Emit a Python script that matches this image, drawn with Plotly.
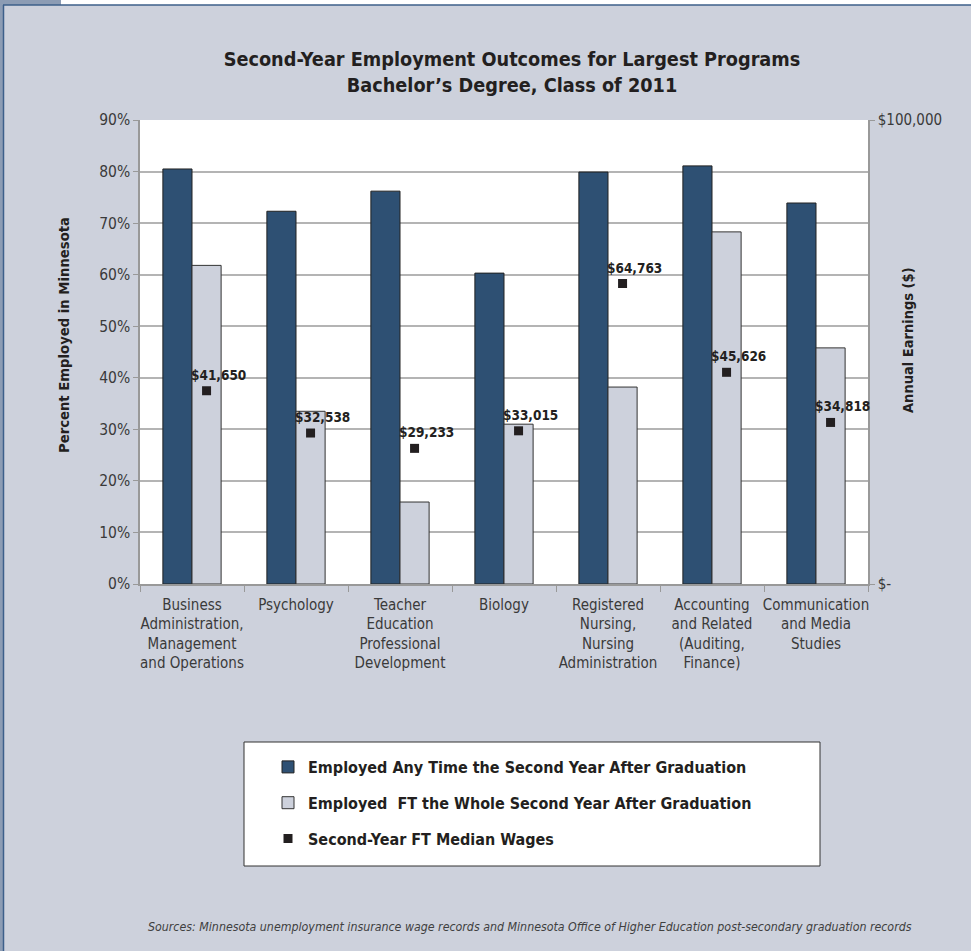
import plotly.graph_objects as go

categories = [
    "Business<br>Administration,<br>Management<br>and Operations",
    "Psychology",
    "Teacher<br>Education<br>Professional<br>Development",
    "Biology",
    "Registered<br>Nursing,<br>Nursing<br>Administration",
    "Accounting<br>and Related<br>(Auditing,<br>Finance)",
    "Communication<br>and Media<br>Studies",
]
employed_any = [80.5, 72.3, 76.2, 60.3, 79.9, 81.1, 73.9]
employed_ft = [61.8, 33.5, 15.9, 31.0, 38.2, 68.3, 45.8]
median_wages = [41650, 32538, 29233, 33015, 64763, 45626, 34818]
wage_labels = ["$41,650", "$32,538", "$29,233", "$33,015", "$64,763", "$45,626", "$34,818"]
left_ticks = [0, 10, 20, 30, 40, 50, 60, 70, 80, 90]
left_ticktext = ["0%", "10%", "20%", "30%", "40%", "50%", "60%", "70%", "80%", "90%"]
right_tickvals = [0, 100000]
right_ticktext = ["$-", "$100,000"]

W, H = 971, 951
L, R, T, B = 140, 868, 120, 584
FONT = "DejaVu Sans Condensed, Liberation Sans Narrow, Roboto, sans-serif"
BG = "#cdd1dc"
DARK = "#2e5073"
LIGHT = "#cdd1dc"


def px(x):
    return (x - L) / (R - L)


def py(y):
    return (B - y) / (B - T)


idx = list(range(len(categories)))
bw = 0.28
x_dark = [i - bw / 2 for i in idx]
x_light = [i + bw / 2 for i in idx]

fig = go.Figure()
fig.add_trace(go.Bar(
    x=x_dark, y=employed_any, width=bw,
    name="<b>Employed Any Time the Second Year After Graduation</b>",
    marker=dict(color=DARK, line=dict(color="#222222", width=1)),
    legendgroup="a",
))
fig.add_trace(go.Bar(
    x=x_light, y=employed_ft, width=bw,
    name="<b>Employed  FT the Whole Second Year After Graduation</b>",
    marker=dict(color=LIGHT, line=dict(color="#333333", width=1)),
    legendgroup="b",
))
fig.add_trace(go.Scatter(
    x=x_light, y=median_wages, yaxis="y2", mode="markers",
    name="<b>Second-Year FT Median Wages</b>",
    marker=dict(symbol="square", size=9, color="#231f20"),
    legendgroup="c",
))

annotations = []
for xv, yv, t in zip(x_light, median_wages, wage_labels):
    annotations.append(dict(
        x=xv, y=yv, xref="x", yref="y2", text="<b>" + t + "</b>",
        showarrow=False, xshift=12, yshift=16,
        font=dict(family=FONT, size=13.5, color="#231f20"),
    ))

annotations += [
    dict(text="<b>Percent Employed in Minnesota</b>", textangle=-90,
         x=px(63), y=py(335), xref="paper", yref="paper", showarrow=False,
         xanchor="center", yanchor="middle",
         font=dict(family=FONT, size=14.7, color="#231f20")),
    dict(text="<b>Annual Earnings ($)</b>", textangle=-90,
         x=px(908), y=py(340), xref="paper", yref="paper", showarrow=False,
         xanchor="center", yanchor="middle",
         font=dict(family=FONT, size=14.5, color="#231f20")),
    dict(text="<i>Sources: Minnesota unemployment insurance wage records and Minnesota Office of Higher Education post-secondary graduation records</i>",
         x=px(530), y=py(927), xref="paper", yref="paper", showarrow=False,
         xanchor="center", yanchor="middle",
         font=dict(family=FONT, size=12.3, color="#404040")),
]

shapes = [
    dict(type="rect", xref="paper", yref="paper", x0=px(244), x1=px(820), y0=py(742), y1=py(866),
         fillcolor="white", line=dict(color="#333333", width=1), layer="below"),
    dict(type="rect", xref="paper", yref="paper", x0=px(0), x1=px(61), y0=py(0), y1=py(5),
         fillcolor="#8c9cb4", line=dict(width=0), layer="below"),
    dict(type="rect", xref="paper", yref="paper", x0=px(61), x1=px(971), y0=py(0), y1=py(5),
         fillcolor="white", line=dict(width=0), layer="below"),
    dict(type="rect", xref="paper", yref="paper", x0=px(0), x1=px(3), y0=py(5), y1=py(951),
         fillcolor="#8c9cb4", line=dict(width=0), layer="below"),
    dict(type="line", xref="paper", yref="paper", x0=px(3), x1=px(971), y0=py(5), y1=py(5),
         line=dict(color="#3d5f8a", width=1.5), layer="below"),
    dict(type="line", xref="paper", yref="paper", x0=px(3.5), x1=px(3.5), y0=py(5), y1=py(951),
         line=dict(color="#3d5f8a", width=1.5), layer="below"),
]

fig.update_layout(
    width=W, height=H,
    margin=dict(l=L, r=W - R, t=T, b=H - B, autoexpand=False),
    paper_bgcolor=BG, plot_bgcolor="white",
    barmode="overlay",
    font=dict(family=FONT, size=15, color="#3a3a3a"),
    title=dict(text="<b>Second-Year Employment Outcomes for Largest Programs<br>Bachelor’s Degree, Class of 2011</b>",
               x=px(512), xanchor="center", y=1 - 66 / H, yanchor="middle",
               xref="paper", yref="container",
               font=dict(family=FONT, size=19.7, color="#231f20")),
    xaxis=dict(
        range=[-0.5, len(categories) - 0.5],
        tickvals=idx, ticktext=categories, ticks="", tickangle=0,
        ticklabelstandoff=6,
        showgrid=False, zeroline=False,
        showline=True, linecolor="#999999", linewidth=1.5,
        minor=dict(tick0=0.5, dtick=1, ticks="outside", ticklen=6, tickcolor="#999999", showgrid=False),
        tickfont=dict(family=FONT, size=15, color="#3a3a3a"),
    ),
    yaxis=dict(
        range=[0, 90], tickvals=left_ticks, ticktext=left_ticktext,
        showgrid=True, gridcolor="#b4b4b4", gridwidth=1.5,
        showline=True, linecolor="#999999", linewidth=1.5,
        ticks="outside", ticklen=5, tickcolor="#999999",
        zeroline=False,
        tickfont=dict(family=FONT, size=15.5, color="#3a3a3a"),
    ),
    yaxis2=dict(
        range=[0, 100000], overlaying="y", side="right",
        tickvals=right_tickvals, ticktext=right_ticktext,
        showgrid=False, zeroline=False,
        showline=True, linecolor="#999999", linewidth=1.5,
        ticks="outside", ticklen=5, tickcolor="#999999",
        tickfont=dict(family=FONT, size=15, color="#3a3a3a"),
    ),
    legend=dict(
        x=px(268), y=py(750), xanchor="left", yanchor="top",
        bgcolor="rgba(0,0,0,0)", borderwidth=0,
        font=dict(family=FONT, size=16, color="#231f20"),
        tracegroupgap=12, traceorder="grouped",
    ),
    showlegend=True,
    annotations=annotations,
    shapes=shapes,
)

fig.write_html("out.html")
